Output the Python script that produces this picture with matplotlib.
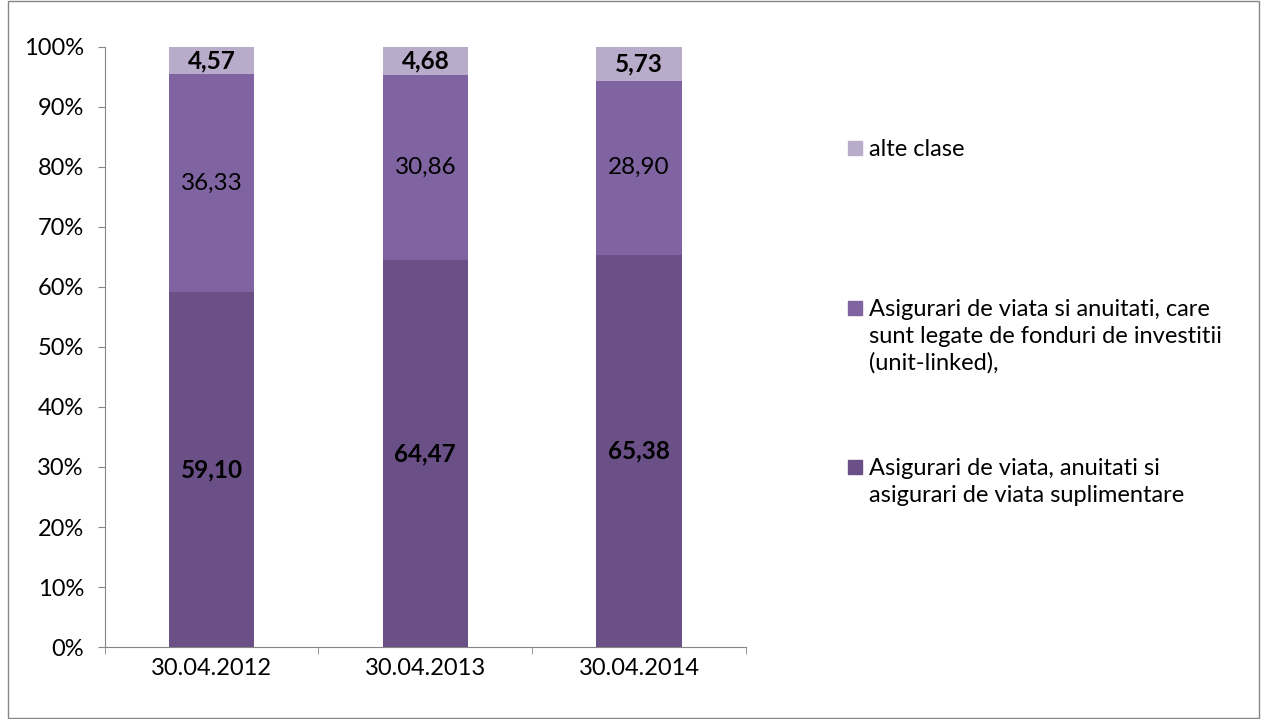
import matplotlib.pyplot as plt
from matplotlib.patches import Rectangle
import numpy as np

plt.rcParams['font.family'] = ['Lato', 'DejaVu Sans']

dates = ['30.04.2012', '30.04.2013', '30.04.2014']
viata = [59.10, 64.47, 65.38]
unit_linked = [36.33, 30.86, 28.90]
alte = [4.57, 4.68, 5.73]

names = ['Asigurari de viata, anuitati si\nasigurari de viata suplimentare',
         'Asigurari de viata si anuitati, care\nsunt legate de fonduri de investitii\n(unit-linked),',
         'alte clase']
colors = ['#6a5087', '#8064a2', '#b9accb']

fig = plt.figure(figsize=(12.62, 7.19), dpi=100)
ax = fig.add_axes([0.083, 0.1, 0.508, 0.835])

x = np.arange(len(dates))
series = [viata, unit_linked, alte]
bold = ['bold', 'normal', 'bold']
bottom = np.zeros(len(dates))
for vals, c, w in zip(series, colors, bold):
    bars = ax.bar(x, vals, width=0.4, bottom=bottom, color=c)
    labels = [f'{v:.2f}'.replace('.', ',') for v in vals]
    ax.bar_label(bars, labels=labels, label_type='center', fontsize=17.5,
                 fontweight=w, color='black')
    bottom += np.array(vals)

ax.set_xlim(-0.5, 2.5)
ax.set_ylim(0, 100)
ax.set_yticks(range(0, 101, 10))
ax.set_yticklabels([f'{t}%' for t in range(0, 101, 10)])
ax.set_xticks(x)
ax.set_xticklabels(dates)
ax.set_xticks([-0.5, 0.5, 1.5, 2.5], minor=True)
ax.tick_params(axis='x', which='major', length=0, pad=8)
ax.tick_params(axis='x', which='minor', length=5, color='#868686')
ax.tick_params(axis='y', length=5, color='#868686', pad=10)
ax.tick_params(labelsize=17)
for s in ['top', 'right']:
    ax.spines[s].set_visible(False)
for s in ['left', 'bottom']:
    ax.spines[s].set_color('#868686')

# legend drawn by hand (Excel spacing), baseline of first line of each entry
leg_y = [0.339, 0.5605, 0.783]
for name, c, yy in zip(names, colors, leg_y):
    fig.patches.append(Rectangle((0.672, yy + 0.0014), 0.0111, 0.0195,
                                 transform=fig.transFigure, color=c))
    fig.text(0.6886, yy, name.split('\n')[0], fontsize=17, ha='left', va='baseline')
    for k, line in enumerate(name.split('\n')[1:], start=1):
        fig.text(0.6886, yy - k * 0.0375, line, fontsize=17, ha='left', va='baseline')

# outer frame
fig.patches.append(Rectangle((0.006, 0.002), 0.992, 0.996, transform=fig.transFigure,
                             fill=False, edgecolor='#868686', lw=1))

fig.savefig('out.png', dpi=100)
